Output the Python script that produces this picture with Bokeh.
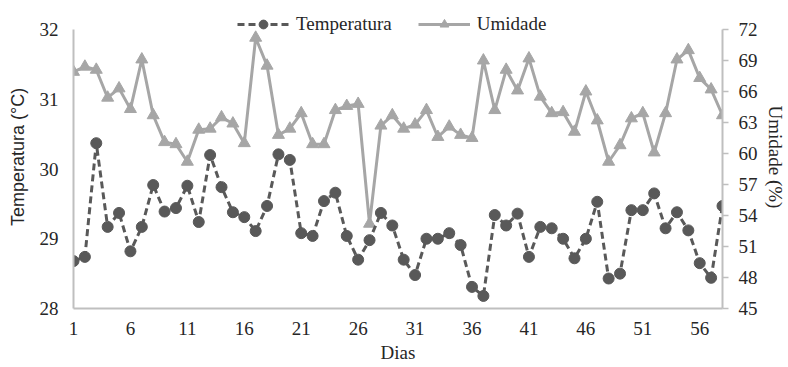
from bokeh.plotting import figure
from bokeh.models import (Range1d, LinearAxis, FixedTicker, Legend, LegendItem)
from bokeh.embed import file_html
from bokeh.resources import INLINE

# ---- data ----
dias = list(range(1, 59))
temperatura = [28.68, 28.74, 30.37, 29.17, 29.37, 28.82, 29.17, 29.77, 29.39, 29.44,
               29.76, 29.24, 30.20, 29.74, 29.38, 29.31, 29.11, 29.47, 30.21, 30.13,
               29.08, 29.04, 29.54, 29.66, 29.04, 28.70, 28.98, 29.37, 29.19, 28.70,
               28.48, 29.00, 29.00, 29.08, 28.91, 28.31, 28.18, 29.34, 29.19, 29.36,
               28.74, 29.17, 29.15, 29.00, 28.72, 29.00, 29.53, 28.43, 28.50, 29.41,
               29.41, 29.65, 29.15, 29.38, 29.12, 28.65, 28.44, 29.47]
umidade = [67.9, 68.4, 68.1, 65.4, 66.3, 64.3, 69.1, 63.7, 61.1, 60.9,
           59.2, 62.3, 62.4, 63.5, 62.9, 61.0, 71.2, 68.5, 61.8, 62.4,
           63.9, 60.9, 60.9, 64.2, 64.6, 64.8, 53.2, 62.7, 63.7, 62.4,
           62.8, 64.2, 61.6, 62.6, 61.8, 61.5, 69.0, 64.2, 68.1, 66.1,
           69.2, 65.5, 63.9, 64.0, 62.1, 66.0, 63.2, 59.2, 60.8, 63.4,
           63.9, 60.1, 63.9, 69.1, 70.0, 67.3, 66.2, 63.7]
x_ticks = [1, 6, 11, 16, 21, 26, 31, 36, 41, 46, 51, 56]
temp_ticks = [28, 29, 30, 31, 32]
umid_ticks = [45, 48, 51, 54, 57, 60, 63, 66, 69, 72]

TEMP_COLOR = "#595959"
UMID_COLOR = "#A6A6A6"
AXIS_COLOR = "#BFBFBF"
TEXT_COLOR = "#262626"
SERIF = "Liberation Serif"

# frame runs from y=5 to y=308; the axes themselves span 29..308 (via bounds),
# the extra headroom holds the legend
TOP_PAD = 24 / 279.0
t_lo, t_hi = temp_ticks[0], temp_ticks[-1]
u_lo, u_hi = umid_ticks[0], umid_ticks[-1]

p = figure(width=788, height=367, output_backend="svg", toolbar_location=None,
           x_range=Range1d(1, 58),
           y_range=Range1d(t_lo, t_hi + (t_hi - t_lo) * TOP_PAD),
           min_border_left=73, min_border_right=62, min_border_top=5,
           min_border_bottom=59)
p.extra_y_ranges = {"umid": Range1d(u_lo, u_hi + (u_hi - u_lo) * TOP_PAD)}
p.outline_line_color = None
p.grid.visible = False
p.background_fill_color = "white"
p.border_fill_color = "white"

# humidity series
h_line = p.line(dias, umidade, y_range_name="umid", line_color=UMID_COLOR, line_width=3)
h_pts = p.scatter(dias, umidade, y_range_name="umid", marker="triangle", size=12,
                  fill_color=UMID_COLOR, line_color=UMID_COLOR)
# temperature series
t_line = p.line(dias, temperatura, line_color=TEMP_COLOR, line_width=3, line_dash="7 4")
t_pts = p.scatter(dias, temperatura, marker="circle", size=11,
                  fill_color=TEMP_COLOR, line_color=TEMP_COLOR)

# axes
xa = p.xaxis[0]
xa.ticker = FixedTicker(ticks=x_ticks)
xa.axis_label = "Dias"
xa.major_tick_out = 0
xa.major_tick_in = 0
xa.minor_tick_out = 0
xa.minor_tick_in = 0
xa.major_label_standoff = 13
xa.axis_label_standoff = 4

ya = p.yaxis[0]
ya.ticker = FixedTicker(ticks=temp_ticks)
ya.bounds = (t_lo, t_hi)
ya.axis_label = "Temperatura (°C)"
ya.major_tick_out = 0
ya.major_tick_in = 0
ya.minor_tick_out = 0
ya.minor_tick_in = 0
ya.major_label_standoff = 15
ya.axis_label_standoff = 9

ra = LinearAxis(y_range_name="umid", ticker=FixedTicker(ticks=umid_ticks),
                axis_label="Umidade (%)", bounds=(u_lo, u_hi))
ra.major_tick_out = 6
ra.major_tick_in = 0
ra.minor_tick_out = 0
ra.minor_tick_in = 0
ra.major_label_standoff = 10
ra.axis_label_standoff = 4
p.add_layout(ra, "right")

for ax in (xa, ya, ra):
    ax.axis_line_color = AXIS_COLOR
    ax.axis_line_width = 2
    ax.major_tick_line_color = AXIS_COLOR
    ax.major_tick_line_width = 1.5
    ax.major_label_text_font = SERIF
    ax.major_label_text_font_size = "19px"
    ax.major_label_text_color = TEXT_COLOR
    ax.axis_label_text_font_style = "normal"
    ax.axis_label_text_font_size = "19px"
    ax.axis_label_text_color = TEXT_COLOR
xa.axis_label_text_font = SERIF
ra.axis_label_text_font = SERIF
ya.axis_label_text_font = "Liberation Sans"
ya.axis_label_text_font_size = "18px"

legend = Legend(items=[LegendItem(label="Temperatura", renderers=[t_line, t_pts]),
                       LegendItem(label="Umidade", renderers=[h_line, h_pts])],
                orientation="horizontal", location=(164, 273),
                glyph_width=52, glyph_height=22, label_height=22,
                label_standoff=7, spacing=26, padding=0, margin=0,
                background_fill_alpha=0, border_line_color=None,
                label_text_font=SERIF, label_text_font_size="19px",
                label_text_color=TEXT_COLOR)
p.add_layout(legend, "center")

open("out.html", "w").write(file_html(p, INLINE))
